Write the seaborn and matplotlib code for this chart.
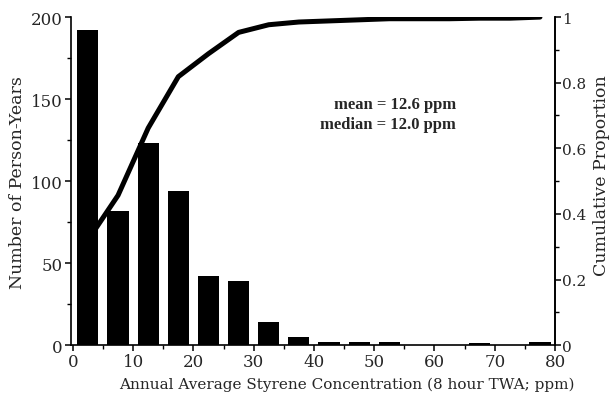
import numpy as np
import pandas as pd
import seaborn as sns
import matplotlib
matplotlib.use("Agg")
import matplotlib.pyplot as plt
from matplotlib.ticker import MultipleLocator

# Annual average styrene exposure, 5-ppm bins (bin midpoints)
bin_mid = [2.5, 7.5, 12.5, 17.5, 22.5, 27.5, 32.5, 37.5,
           42.5, 47.5, 52.5, 57.5, 62.5, 67.5, 72.5, 77.5]
person_years = [192, 82, 123, 94, 42, 39, 14, 5,
                2, 2, 2, 0, 0, 1, 0, 2]

x_ticks = [0, 10, 20, 30, 40, 50, 60, 70, 80]
left_ticks = [0, 50, 100, 150, 200]
right_ticks = [0, 0.2, 0.4, 0.6, 0.8, 1]
right_labels = ["0", "0.2", "0.4", "0.6", "0.8", "1"]

counts = np.array(person_years, dtype=float)
cum_prop = np.cumsum(counts) / counts.sum()

df = pd.DataFrame({"conc": bin_mid, "n": person_years, "cum": cum_prop})

sns.set_theme(style="ticks")
plt.rcParams["font.family"] = ["DejaVu Serif"]

fig = plt.figure(figsize=(6.15, 4.02), dpi=100)
ax = fig.add_axes([0.1155, 0.139, 0.787, 0.816])

sns.barplot(data=df, x="conc", y="n", native_scale=True, width=0.7,
            color="black", edgecolor="black", linewidth=0, ax=ax)
ax.set_xlim(-0.3, 80)
ax.set_ylim(0, 200)
ax.set_xticks(x_ticks)
ax.set_yticks(left_ticks)
ax.xaxis.set_minor_locator(MultipleLocator(5))
ax.yaxis.set_minor_locator(MultipleLocator(25))
ax.set_xlabel("Annual Average Styrene Concentration (8 hour TWA; ppm)",
              fontsize=11)
ax.xaxis.set_label_coords(0.57, -0.095)
ax.set_ylabel("Number of Person-Years", fontsize=12.5)
ax.yaxis.set_label_coords(-0.093, 0.5)

ax2 = ax.twinx()
sns.lineplot(data=df, x="conc", y="cum", color="black", linewidth=3.6,
             ax=ax2)
ax2.set_ylim(0, 1)
ax2.set_yticks(right_ticks)
ax2.set_yticklabels(right_labels)
ax2.yaxis.set_minor_locator(MultipleLocator(0.1))
ax2.set_ylabel("Cumulative Proportion", fontsize=12.5)
ax2.yaxis.set_label_coords(1.078, 0.52)

for a in (ax, ax2):
    a.spines["top"].set_visible(False)
    for s in a.spines.values():
        s.set_color("black")
        s.set_linewidth(1.2)
    a.tick_params(which="major", length=4, width=1.1, color="black",
                  labelsize=12, pad=2, direction="out")
    a.tick_params(which="minor", length=3, width=1.0, color="black",
                  direction="out")
ax2.tick_params(axis="y", which="major", labelsize=11, pad=1)
ax2.spines["left"].set_visible(False)
ax2.spines["bottom"].set_visible(False)

ax.text(0.795, 0.705, "mean = 12.6 ppm\nmedian = 12.0 ppm",
        transform=ax.transAxes, ha="right", va="center", fontsize=12,
        family=["Liberation Serif", "DejaVu Serif"], fontweight="bold",
        multialignment="right", linespacing=1.35)

fig.savefig("out.png", dpi=100)
